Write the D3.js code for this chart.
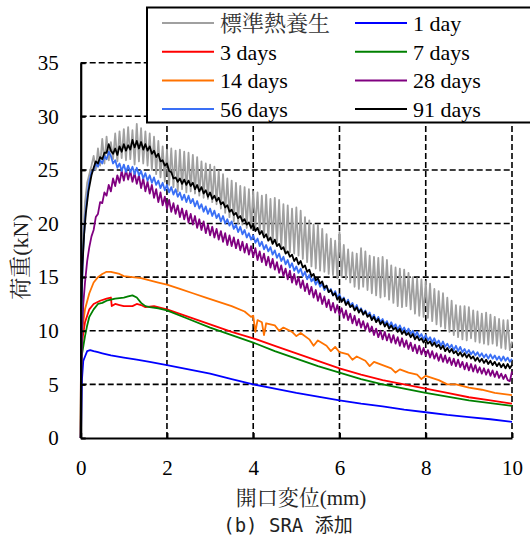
<!DOCTYPE html>
<html><head><meta charset="utf-8">
<script src="https://cdn.jsdelivr.net/npm/d3@7"></script>
<style>body{margin:0;background:#fff}svg{display:block}</style>
</head><body><svg id="c" width="530" height="538"></svg>
<script>
// ---------------- DATA ----------------
const xTicks = [0, 2, 4, 6, 8, 10];
const yTicks = [0, 5, 10, 15, 20, 25, 30, 35];
const seriesNames = ["標準熱養生", "1 day", "3 days", "7 days", "14 days", "28 days", "56 days", "91 days"];

// noisy records: rise part as [disp, load] pairs, then loads logged every 0.05 mm from 0.30 mm
const SAMPLE_START = 0.30, SAMPLE_STEP = 0.05;

const stdRise = [[0,0],[0.01,8],[0.03,14],[0.06,19],[0.1,22],[0.15,23.8],[0.2,24.6],[0.25,25.4]];
const stdLoad = [26.3,25.0,27.0,25.4,
27.9,25.6,28.1,25.9,27.6,26.0,28.4,25.8,28.6,26.1,
28.8,25.9,29.0,26.0,28.7,25.5,29.3,25.8,28.9,25.6,
28.6,25.4,28.4,25.0,28.1,24.6,27.7,24.3,27.2,23.9,
26.9,23.6,27.0,23.4,26.8,23.0,26.9,23.2,26.7,22.9,
26.6,23.0,26.4,22.8,26.2,22.6,25.8,22.4,25.6,22.3,
25.5,22.0,25.3,21.8,24.9,21.4,24.6,21.0,24.2,20.6,
24.0,20.2,23.8,20.0,23.5,19.9,23.4,19.6,23.2,19.5,
23.0,19.6,22.9,19.2,22.6,18.8,22.7,18.5,22.3,18.2,
22.4,18.0,22.2,17.8,21.8,17.4,21.7,17.3,21.4,17.2,
21.5,17.0,21.2,16.7,20.6,16.4,20.3,16.0,19.9,15.8,
19.9,15.6,19.5,15.5,19.0,15.3,18.6,15.2,18.4,14.9,
19.2,15.0,18.0,14.8,17.6,14.5,17.3,14.1,17.2,13.9,
17.7,14.1,17.4,13.8,17.0,13.5,16.9,13.3,16.8,13.1,
16.9,13.2,16.6,12.9,16.1,12.6,15.9,12.3,15.8,12.2,
15.7,12.3,15.4,12.0,15.0,11.6,14.9,11.4,14.8,11.3,
14.6,11.2,14.4,10.9,13.9,10.6,13.7,10.4,13.5,10.2,
13.1,9.9,12.8,9.6,12.4,9.4,12.3,9.2,12.3,9.1,
12.2,9.3,11.9,9.0,11.8,8.9,11.6,8.8,11.7,8.7,
11.5,8.8,11.3,8.6,11.1,8.4,11.0,8.3,11.0,8.2,
9.0];

const d28Rise = [[0,0],[0.01,5],[0.03,9.5],[0.06,12.5],[0.1,14.5],[0.15,16.5],[0.2,17.8],[0.25,18.8]];
const d28Load = [19.4,20.6,20.9,22.0,21.9,22.9,22.6,23.6,23.0,24.2,
23.5,24.5,23.8,24.9,24.0,25.0,24.1,24.9,23.9,24.7,
23.7,24.5,23.3,24.2,23.0,23.9,22.8,23.6,22.4,23.2,
22.0,22.9,21.7,22.5,21.4,22.2,21.1,21.9,20.9,21.7,
20.6,21.4,20.4,21.2,20.1,20.9,19.9,20.7,19.6,20.4,
19.4,20.2,19.1,19.9,18.9,19.7,18.7,19.5,18.5,19.3,
18.3,19.1,18.0,18.9,17.9,18.7,17.7,18.5,17.5,18.3,
17.3,18.1,17.1,17.9,16.9,17.7,16.6,17.4,16.4,17.2,
16.1,16.9,15.9,16.7,15.7,16.4,15.4,16.1,15.1,15.8,
14.8,15.6,14.5,15.3,14.3,15.0,14.0,14.7,13.7,14.4,
13.4,14.1,13.1,13.8,12.8,13.5,12.5,13.2,12.2,12.9,
11.9,12.6,11.7,12.4,11.5,12.1,11.2,11.9,11.0,11.6,
10.7,11.4,10.5,11.1,10.3,10.9,10.1,10.7,9.9,10.4,
9.6,10.2,9.4,10.0,9.2,9.9,9.1,9.7,8.9,9.6,
8.8,9.4,8.6,9.3,8.5,9.1,8.3,8.9,8.1,8.7,
7.9,8.6,7.8,8.4,7.7,8.2,7.5,8.1,7.4,7.9,
7.2,7.8,7.1,7.7,7.0,7.5,6.8,7.4,6.7,7.3,
6.6,7.1,6.4,7.0,6.3,6.9,6.2,6.8,6.1,6.6,
6.0,6.5,5.9,6.4,5.8,6.3,5.7,6.2,5.6,6.0,
5.5,5.9,5.4,5.3,6.2];

const d56Rise = [[0,0],[0.005,2],[0.02,12],[0.05,17],[0.1,20.5],[0.15,22.5],[0.2,24],[0.25,24.8]];
const d56Load = [25.0,25.6,25.3,25.9,25.6,26.3,26.0,26.7,26.3,25.6,
25.9,25.2,25.6,24.9,25.5,24.8,25.4,24.8,25.3,24.6,
25.2,24.5,24.9,24.2,24.7,24.0,24.5,23.8,24.3,23.6,
24.0,23.3,23.8,23.1,23.6,22.9,23.4,22.7,23.2,22.5,
22.9,22.2,22.7,22.0,22.6,21.9,22.3,21.6,22.1,21.4,
21.8,21.1,21.6,20.9,21.4,20.7,21.2,20.5,20.9,20.2,
20.7,20.0,20.4,19.8,20.2,19.5,19.9,19.2,19.7,19.0,
19.4,18.7,19.1,18.5,18.9,18.2,18.6,17.9,18.3,17.6,
18.0,17.4,17.8,17.1,17.5,16.8,17.2,16.5,16.9,16.2,
16.6,15.9,16.3,15.6,16.0,15.4,15.8,15.1,15.5,14.8,
15.2,14.6,14.9,14.3,14.7,14.1,14.4,13.8,14.2,13.6,
13.9,13.3,13.7,13.1,13.4,12.8,13.1,12.5,12.9,12.3,
12.6,12.0,12.4,11.8,12.1,11.6,11.9,11.4,11.7,11.1,
11.5,10.9,11.3,10.8,11.1,10.6,10.9,10.4,10.8,10.3,
10.6,10.1,10.5,10.0,10.3,9.8,10.2,9.7,10.0,9.5,
9.9,9.4,9.7,9.2,9.6,9.1,9.4,8.9,9.3,8.8,
9.1,8.6,9.0,8.5,8.8,8.4,8.7,8.2,8.6,8.1,
8.5,8.0,8.3,7.9,8.2,7.8,8.1,7.7,8.0,7.6,
7.9,7.5,7.8,7.4,7.8,7.4,7.7,7.3,7.6,7.2,
7.6,7.2,7.5,7.1,7.4];

const d91Rise = [[0,0],[0.01,12],[0.04,16],[0.08,19],[0.12,21],[0.18,23],[0.25,24.5]];
const d91Load = [25.2,25.8,25.6,26.2,26.0,26.6,26.6,27.4,26.8,26.5,
27.0,26.4,27.2,26.7,27.4,26.8,27.3,26.9,27.8,27.1,
27.7,27.0,27.6,26.9,27.4,26.8,27.2,26.5,26.8,26.2,
26.5,25.8,25.9,25.4,25.6,24.9,24.8,24.2,24.3,23.9,
24.2,23.7,24.1,23.6,24.0,23.5,23.8,23.2,23.6,23.0,
23.4,22.8,23.1,22.5,22.9,22.3,22.6,22.1,22.4,21.8,
22.0,21.5,21.7,21.1,21.3,20.8,21.0,20.5,20.7,20.2,
20.4,19.9,20.1,19.6,19.9,19.3,19.6,19.0,19.3,18.7,
19.0,18.4,18.7,18.1,18.5,17.9,18.1,17.6,17.8,17.2,
17.4,16.9,17.1,16.5,16.8,16.2,16.5,15.9,16.1,15.5,
15.7,15.1,15.3,14.7,14.9,14.4,14.6,14.0,14.2,13.6,
13.8,13.3,13.5,12.9,13.2,12.7,13.0,12.4,12.7,12.2,
12.4,11.9,12.2,11.7,12.0,11.5,11.8,11.3,11.5,11.0,
11.3,10.8,11.1,10.6,10.9,10.4,10.7,10.2,10.5,10.1,
10.3,9.9,10.2,9.7,10.0,9.6,9.8,9.4,9.7,9.2,
9.5,9.1,9.3,8.9,9.2,8.8,9.0,8.6,8.9,8.5,
8.7,8.3,8.6,8.1,8.4,8.0,8.3,7.9,8.1,7.7,
8.0,7.6,7.9,7.5,7.8,7.4,7.6,7.2,7.5,7.1,
7.4,7.0,7.3,6.9,7.2,6.8,7.1,6.7,7.0,6.6,
6.9,6.5,6.9,6.5,6.8];

// smooth records as [disp (mm), load (kN)]
const d1Data = [[0,0],[0.01,1],[0.03,5.5],[0.06,7.2],[0.1,7.6],[0.15,8.1],[0.22,8.2],[0.3,8.1],[0.4,8.0],[0.5,7.9],[0.7,7.7],[1.0,7.5],[1.3,7.3],[1.6,7.1],[2.0,6.8],[2.5,6.4],[3.0,6.0],[3.5,5.5],[4.0,5.0],[4.5,4.6],[5.0,4.2],[5.5,3.85],[6.0,3.5],[6.5,3.2],[7.0,2.95],[7.5,2.65],[8.0,2.4],[8.5,2.15],[9.0,1.95],[9.5,1.75],[10.0,1.5]];
const d3Data = [[0,0],[0.005,6],[0.02,8.0],[0.05,9.5],[0.1,10.8],[0.2,12.0],[0.3,12.5],[0.45,12.8],[0.6,13.0],[0.7,13.1],[0.72,12.3],[0.8,12.5],[0.9,12.4],[1.0,12.3],[1.2,12.3],[1.3,12.5],[1.4,12.4],[1.5,12.2],[1.7,12.3],[2.0,12.0],[2.5,11.3],[3.0,10.6],[3.5,9.9],[4.0,9.3],[4.5,8.6],[5.0,7.9],[5.5,7.2],[6.0,6.5],[6.5,5.9],[7.0,5.4],[7.5,5.0],[8.0,4.6],[8.5,4.2],[9.0,3.8],[9.5,3.5],[10.0,3.2]];
const d7Data = [[0,0],[0.005,5],[0.02,7.6],[0.05,8.3],[0.1,9.5],[0.15,10.5],[0.2,11.3],[0.3,12.0],[0.4,12.5],[0.5,12.6],[0.6,12.8],[0.8,13.0],[1.0,13.1],[1.1,13.2],[1.2,13.3],[1.3,13.1],[1.4,12.6],[1.5,12.3],[1.6,12.2],[1.8,12.1],[2.0,11.9],[2.5,11.1],[3.0,10.3],[3.5,9.6],[4.0,8.9],[4.5,8.1],[5.0,7.4],[5.5,6.7],[6.0,6.1],[6.5,5.5],[7.0,5.0],[7.5,4.6],[8.0,4.2],[8.5,3.85],[9.0,3.5],[9.5,3.25],[10.0,3.0]];
const d14Data = [[0,0],[0.005,6],[0.02,9.0],[0.05,10.5],[0.1,12],[0.2,13.5],[0.3,14.5],[0.4,15.0],[0.5,15.3],[0.6,15.5],[0.7,15.5],[0.8,15.4],[0.9,15.3],[1.0,15.1],[1.2,15.0],[1.4,14.9],[1.6,14.7],[1.8,14.5],[2.0,14.3],[2.3,13.9],[2.6,13.5],[2.9,13.1],[3.2,12.7],[3.5,12.3],[3.8,11.8],[3.95,11.3],[4.0,11.4],[4.05,9.9],[4.1,11.0],[4.2,10.8],[4.25,9.6],[4.3,10.7],[4.5,10.5],[4.6,10.0],[4.7,10.3],[4.9,9.9],[5.0,9.5],[5.1,9.8],[5.3,9.2],[5.4,8.6],[5.5,9.1],[5.7,8.6],[5.8,8.1],[5.9,8.5],[6.0,8.0],[6.2,7.8],[6.3,7.3],[6.4,7.6],[6.6,7.2],[6.7,6.7],[6.8,7.1],[7.0,6.8],[7.2,6.5],[7.3,6.1],[7.4,6.4],[7.6,6.1],[7.8,5.9],[7.9,5.5],[8.0,5.8],[8.3,5.4],[8.5,5.0],[8.7,5.0],[9.0,4.7],[9.3,4.5],[9.6,4.2],[10.0,4.0]];

// ---------------- CHART ----------------
const colors = ["#a0a0a0", "#0000ff", "#ff0000", "#008000", "#ff7200", "#800080", "#3a6ff5", "#000000"];
const LATIN = '"Liberation Serif"';
const MINCHO = '"Noto Serif CJK JP"';
const isCJK = s => /[\u3000-\u9fff]/.test(s);
// split mixed strings into runs so each run gets exactly one font family
function runs(sel, str, cjkFont, latinFont) {
  const parts = str.match(/[\u3000-\u9fff]+|[^\u3000-\u9fff]+/g);
  sel.selectAll("tspan").data(parts).join("tspan")
    .style("font-family", p => isCJK(p) ? cjkFont : latinFont)
    .attr("xml:space", "preserve").text(p => p);
}
const withSamples = (rise, loads) => rise.concat(loads.map((v, i) => [SAMPLE_START + i * SAMPLE_STEP, v]));
const curves = [
  withSamples(stdRise, stdLoad), d1Data, d3Data, d7Data, d14Data,
  withSamples(d28Rise, d28Load), withSamples(d56Rise, d56Load), withSamples(d91Rise, d91Load)
];

const svg = d3.select("#c");
const M = {l: 80.7, r: 512, t: 62.7, b: 438};
const x = d3.scaleLinear().domain([0, 10]).range([M.l, M.r]);
const y = d3.scaleLinear().domain([0, 35]).range([M.b, M.t]);

// grid
svg.append("g").selectAll("line").data(yTicks.filter(d => d > 0)).join("line")
  .attr("x1", M.l).attr("x2", M.r).attr("y1", d => y(d)).attr("y2", d => y(d))
  .attr("stroke", "#000").attr("stroke-width", 1.6).attr("stroke-dasharray", "6,3");
svg.append("g").selectAll("line").data(xTicks.filter(d => d > 0)).join("line")
  .attr("y1", M.b).attr("y2", M.t).attr("x1", d => x(d)).attr("x2", d => x(d))
  .attr("stroke", "#000").attr("stroke-width", 1.6).attr("stroke-dasharray", "6,3");

// lines
const line = d3.line().x(d => x(d[0])).y(d => y(d[1]));
svg.append("g").selectAll("path").data(curves).join("path")
  .attr("d", line).attr("fill", "none")
  .attr("stroke", (d, i) => colors[i]).attr("stroke-width", 1.8).attr("stroke-linejoin", "round");

// axes
const styleAxis = g => {
  g.attr("font-family", null).attr("font-size", null);
  g.select(".domain").attr("stroke-width", 2.2);
  g.selectAll(".tick line").attr("stroke-width", 2);
  g.selectAll("text").style("font-family", LATIN).style("font-size", "21px").attr("fill", "#000");
};
svg.append("g").attr("transform", `translate(${M.l},0)`)
  .call(d3.axisLeft(y).tickValues(yTicks).tickSize(-5).tickSizeOuter(0).tickPadding(22))
  .call(styleAxis);
svg.append("g").attr("transform", `translate(0,${M.b})`)
  .call(d3.axisBottom(x).tickValues(xTicks).tickSize(-5).tickSizeOuter(0).tickPadding(22))
  .call(styleAxis);

// axis titles
svg.append("text").attr("transform", "translate(28,257) rotate(-90)")
  .attr("text-anchor", "middle").style("font-size", "22px").attr("fill", "#222")
  .call(runs, "荷重(kN)", MINCHO, LATIN);
svg.append("text").attr("x", 301).attr("y", 505).attr("text-anchor", "middle")
  .style("font-size", "21px").attr("fill", "#222")
  .call(runs, "開口変位(mm)", MINCHO, LATIN);
svg.append("text").attr("x", 288).attr("y", 532).attr("text-anchor", "middle")
  .style("font-size", "19px").attr("fill", "#222")
  .call(runs, "(b) SRA 添加", '"Noto Sans CJK JP"', '"DejaVu Sans Mono"');

// legend
const lg = svg.append("g");
lg.append("rect").attr("x", 147).attr("y", 7.5).attr("width", 400).attr("height", 115)
  .attr("fill", "#fff").attr("stroke", "#000").attr("stroke-width", 2);
const items = lg.selectAll("g.it").data(seriesNames).join("g").attr("class", "it")
  .attr("transform", (d, i) => `translate(${i % 2 ? 355 : 162},${23 + Math.floor(i / 2) * 28.7})`);
items.append("line").attr("x1", 0).attr("x2", 52).attr("y1", 0).attr("y2", 0)
  .attr("stroke", (d, i) => colors[i]).attr("stroke-width", 2);
items.append("text").attr("x", 58).attr("y", 8)
  .style("font-family", d => isCJK(d) ? MINCHO : LATIN).style("font-size", "22px")
  .attr("fill", (d, i) => i === 0 ? "#333" : "#000").text(d => d);
</script></body></html>
